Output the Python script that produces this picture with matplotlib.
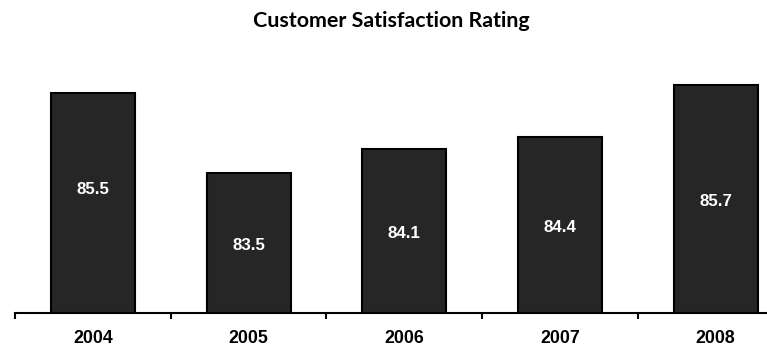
import matplotlib
matplotlib.use("Agg")
import matplotlib.pyplot as plt

# data
years = ["2004", "2005", "2006", "2007", "2008"]
ratings = [85.5, 83.5, 84.1, 84.4, 85.7]
# where each value label sits inside its bar (data units)
label_y = [83.1, 81.7, 82.0, 82.15, 82.78]

W, H = 767, 347
fig = plt.figure(figsize=(W / 100, H / 100), dpi=100)
ax = fig.add_axes([15 / W, 34 / H, 752 / W, 244 / H])

x = range(len(years))
ax.bar(x, ratings, width=0.54, color="#262626", edgecolor="black", linewidth=1.5, zorder=2)

for xi, v, ly in zip(x, ratings, label_y):
    ax.text(xi, ly, f"{v:.1f}", ha="center", va="center", color="white",
            fontsize=12.2, fontweight="bold", family="Liberation Sans")

ax.set_ylim(80, 86.1)
ax.set_xlim(-0.5, 4.33)

# ticks at category boundaries, labels at centers
ax.set_xticks([i - 0.5 for i in range(len(years))])
ax.set_xticklabels([])
ax.set_xticks(list(x), minor=True)
ax.set_xticklabels(years, minor=True, fontsize=12.8, fontweight="bold", family="Liberation Sans")
ax.tick_params(axis="x", which="major", direction="out", length=4, width=1.5, color="black")
ax.tick_params(axis="x", which="minor", length=0, pad=12)
ax.set_yticks([])

for side in ("top", "right", "left"):
    ax.spines[side].set_visible(False)
ax.spines["bottom"].set_linewidth(1.5)

fig.text(391 / W, 1 - 21 / H, "Customer Satisfaction Rating", ha="center", va="center",
         fontsize=15.4, fontweight="bold", family="Lato")

fig.savefig("out.png", dpi=100)
